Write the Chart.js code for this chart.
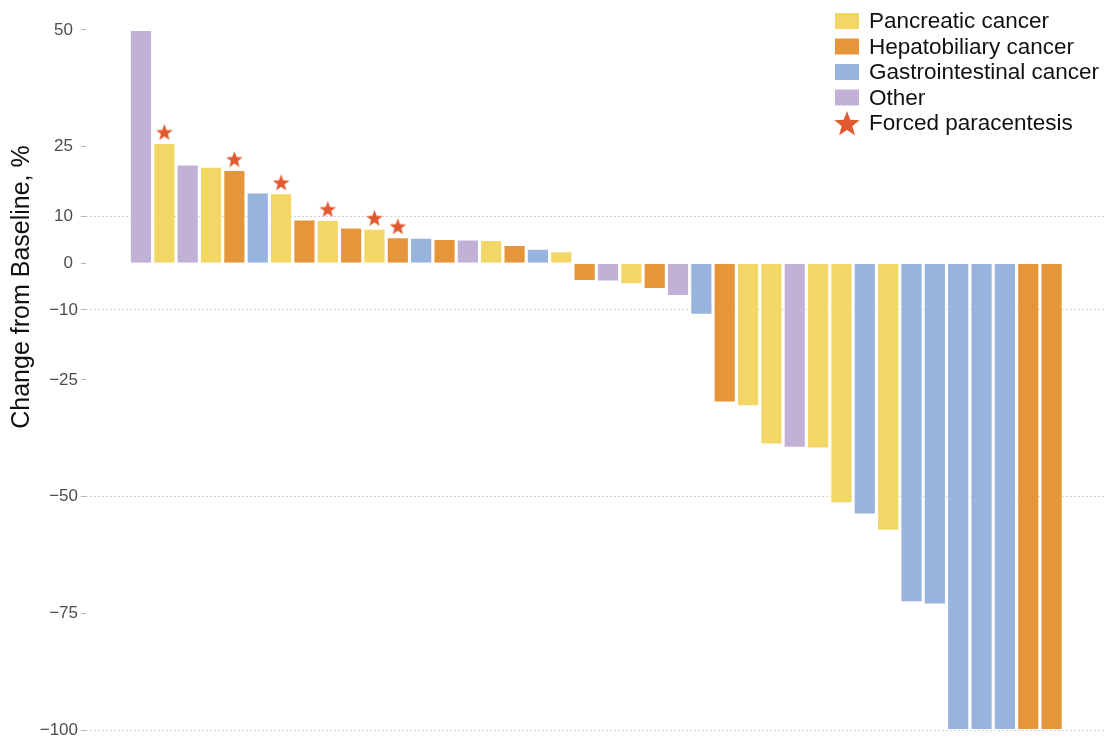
<!DOCTYPE html>
<html>
<head>
<meta charset="utf-8">
<script src="https://cdn.jsdelivr.net/npm/chart.js@4/dist/chart.umd.min.js"></script>
<style>
  html, body { margin: 0; padding: 0; background: #ffffff; }
  #wrap { width: 1109px; height: 738px; position: relative; }
</style>
</head>
<body>
<div id="wrap"><canvas id="waterfall" width="1109" height="738"></canvas></div>
<script>
// Tumour groups and their colours
const tumorTypes = ['Pancreatic cancer', 'Hepatobiliary cancer', 'Gastrointestinal cancer', 'Other'];
const tumorColors = ['#F2D666', '#E5963A', '#98B3DD', '#C1B1D7'];

// Best change from baseline per patient (%), sorted high to low
const changes = [50, 25.8, 21.2, 20.7, 20.0, 15.2, 15.0, 9.4, 9.3, 7.7,
                 7.4, 5.6, 5.5, 5.2, 5.1, 5.0, 3.9, 3.1, 2.6, -3.8,
                 -3.9, -4.5, -5.5, -7.0, -11.0, -29.8, -30.6, -38.8, -39.5, -39.7,
                 -51.4, -53.8, -57.3, -72.6, -73.1, -100, -100, -100, -100, -100];

// Tumour group of each patient, same order as changes
const patientTypes = ['Other', 'Pancreatic cancer', 'Other', 'Pancreatic cancer', 'Hepatobiliary cancer',
                      'Gastrointestinal cancer', 'Pancreatic cancer', 'Hepatobiliary cancer', 'Pancreatic cancer', 'Hepatobiliary cancer',
                      'Pancreatic cancer', 'Hepatobiliary cancer', 'Gastrointestinal cancer', 'Hepatobiliary cancer', 'Other',
                      'Pancreatic cancer', 'Hepatobiliary cancer', 'Gastrointestinal cancer', 'Pancreatic cancer', 'Hepatobiliary cancer',
                      'Other', 'Pancreatic cancer', 'Hepatobiliary cancer', 'Other', 'Gastrointestinal cancer',
                      'Hepatobiliary cancer', 'Pancreatic cancer', 'Pancreatic cancer', 'Other', 'Pancreatic cancer',
                      'Pancreatic cancer', 'Gastrointestinal cancer', 'Pancreatic cancer', 'Gastrointestinal cancer', 'Gastrointestinal cancer',
                      'Gastrointestinal cancer', 'Gastrointestinal cancer', 'Gastrointestinal cancer', 'Hepatobiliary cancer', 'Hepatobiliary cancer'];

// Patients who needed forced paracentesis (positions in the lists above)
const paracentesisPatients = [1, 4, 6, 8, 10, 11];

// Y axis tick values and the ones that carry a reference line
const yTicks = [50, 25, 10, 0, -10, -25, -50, -75, -100];
const refLines = [10, -10, -50, -100];

const STAR_COLOR = '#E0592F';
const STAR_GAP = 2.35;          // star sits just above its bar (axis units)
const FONT = '"Liberation Sans", Arial, Helvetica, sans-serif';

function starCanvas(size, color) {
  const c = document.createElement('canvas');
  c.width = size; c.height = size;
  const g = c.getContext('2d');
  const R = size / 1.902 * 0.98, r = R * 0.42;
  const cx = size / 2, cy = size / 2 + R * 0.1;
  g.beginPath();
  for (let k = 0; k < 10; k++) {
    const rad = k % 2 === 0 ? R : r;
    const a = -Math.PI / 2 + k * Math.PI / 5;
    const px = cx + rad * Math.cos(a), py = cy + rad * Math.sin(a);
    if (k === 0) g.moveTo(px, py); else g.lineTo(px, py);
  }
  g.closePath();
  g.fillStyle = color;
  g.fill();
  return c;
}

const smallStar = starCanvas(17, STAR_COLOR);
const legendStar = starCanvas(26, STAR_COLOR);

function fmtTick(v) {
  return v < 0 ? '\u2212' + Math.abs(v) : String(v);
}

// Y tick labels, rotated axis title and the legend block in the upper right
const decorations = {
  id: 'decorations',
  afterDraw(chart) {
    const ctx = chart.ctx;
    const yScale = chart.scales.y;

    ctx.save();
    ctx.font = '17px ' + FONT;
    ctx.fillStyle = '#4d4d4d';
    ctx.textAlign = 'right';
    ctx.textBaseline = 'middle';
    yTicks.forEach(v => {
      const right = yScale.right - (v < 0 ? 8 : 13);
      ctx.fillText(fmtTick(v), right, yScale.getPixelForValue(v));
    });
    ctx.restore();

    ctx.save();
    ctx.translate(22, 287);
    ctx.rotate(-Math.PI / 2);
    ctx.font = '25px ' + FONT;
    ctx.fillStyle = '#111111';
    ctx.textAlign = 'center';
    ctx.textBaseline = 'middle';
    ctx.fillText('Change from Baseline, %', 0, 0);
    ctx.restore();

    ctx.save();
    const rows = [21, 46.5, 72, 97.5, 123];
    ctx.font = '22.5px ' + FONT;
    ctx.textBaseline = 'middle';
    ctx.textAlign = 'left';
    tumorTypes.forEach((name, i) => {
      ctx.fillStyle = tumorColors[i];
      ctx.fillRect(835, rows[i] - 8, 24, 16);
      ctx.fillStyle = '#111111';
      ctx.fillText(name, 869, rows[i] + 1);
    });
    ctx.drawImage(legendStar, 847 - 13, rows[4] - 13);
    ctx.fillStyle = '#111111';
    ctx.fillText('Forced paracentesis', 869, rows[4] + 1);
    ctx.restore();
  }
};

new Chart(document.getElementById('waterfall'), {
  type: 'bar',
  data: {
    datasets: [
      {
        type: 'line',
        label: 'Forced paracentesis',
        data: paracentesisPatients.map(i => ({ x: i, y: changes[i] + STAR_GAP })),
        showLine: false,
        pointStyle: smallStar,
        pointRadius: 8,
        order: 0
      },
      {
        label: 'Change from baseline',
        data: changes.map((v, i) => ({ x: i, y: v })),
        backgroundColor: patientTypes.map(t => tumorColors[tumorTypes.indexOf(t)]),
        borderColor: 'rgba(255,255,255,0.55)',
        borderWidth: 1,
        categoryPercentage: 1,
        barPercentage: 0.95,
        order: 1
      }
    ]
  },
  options: {
    responsive: false,
    devicePixelRatio: 1,
    animation: false,
    events: [],
    layout: { autoPadding: false, padding: { left: 0, right: 3, top: 8, bottom: 3 } },
    plugins: { legend: { display: false }, tooltip: { enabled: false } },
    scales: {
      x: {
        type: 'linear',
        min: -2.355,
        max: 41.33,
        offset: false,
        display: false
      },
      y: {
        type: 'linear',
        min: -101.07,
        max: 54.71,
        z: 1,
        afterBuildTicks: s => { s.ticks = yTicks.map(v => ({ value: v })); },
        afterFit: s => { s.width = 86; s.paddingTop = 0; s.paddingBottom = 0; },
        grid: {
          color: c => (c.tick && refLines.includes(c.tick.value)) ? 'rgba(0,0,0,0.17)' : 'rgba(0,0,0,0)',
          lineWidth: 1,
          drawTicks: true,
          tickLength: 5,
          tickColor: '#b5b5b5'
        },
        border: { display: false, dash: [2, 2] },
        ticks: { display: false }
      }
    }
  },
  plugins: [decorations]
});
</script>
</body>
</html>
